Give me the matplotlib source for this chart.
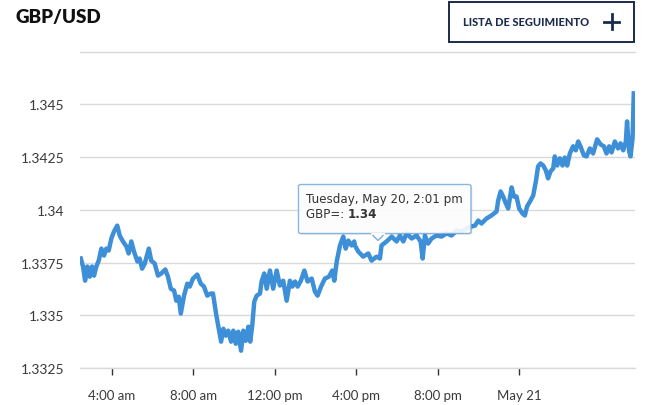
import matplotlib
matplotlib.use('Agg')
import matplotlib.pyplot as plt
from matplotlib.patches import FancyBboxPatch, Rectangle, Polygon
from matplotlib.lines import Line2D

# hours since midnight, May 20
hours = [2.48, 2.59, 2.69, 2.80, 2.92, 3.03, 3.13, 3.24, 3.36, 3.49, 3.62, 3.73, 3.85, 3.98,
         4.11, 4.27, 4.39, 4.55, 4.72, 4.83, 4.96, 5.09, 5.26, 5.37, 5.49, 5.62, 5.82, 5.94,
         6.11, 6.27, 6.43, 6.63, 6.76, 6.90, 7.06, 7.17, 7.29, 7.39, 7.55, 7.71, 7.83, 7.99,
         8.20, 8.37, 8.53, 8.69, 8.86, 8.97, 9.14, 9.23, 9.37, 9.48, 9.60, 9.72, 9.86, 9.97,
         10.09, 10.21, 10.35, 10.46, 10.58, 10.71, 10.80, 10.90, 11.00, 11.12, 11.28, 11.36,
         11.49, 11.61, 11.77, 11.93, 12.10, 12.26, 12.42, 12.59, 12.75, 12.87, 13.00, 13.13,
         13.29, 13.46, 13.62, 13.82, 13.98, 14.11, 14.28, 14.47, 14.67, 14.83, 14.93, 15.05,
         15.21, 15.37, 15.49, 15.62, 15.78, 15.91, 15.94, 16.11, 16.35, 16.60, 16.76, 17.01,
         17.17, 17.25, 17.50, 17.75, 17.99, 18.15, 18.32, 18.48, 18.73, 18.97, 19.17, 19.27,
         19.38, 19.54, 19.71, 19.95, 20.20, 20.45, 20.69, 20.94, 21.18, 21.43, 21.67, 21.84,
         22.00, 22.16, 22.41, 22.65, 22.90, 22.98, 23.10, 23.22, 23.36, 23.47, 23.64, 23.75,
         23.88, 24.01, 24.18, 24.29, 24.40, 24.57, 24.70, 24.83, 24.94, 25.06, 25.19, 25.32,
         25.43, 25.55, 25.68, 25.76, 25.88, 26.01, 26.14, 26.25, 26.37, 26.50, 26.66, 26.79,
         26.91, 27.02, 27.19, 27.32, 27.48, 27.64, 27.84, 28.01, 28.17, 28.30, 28.43, 28.55,
         28.71, 28.87, 28.99, 29.12, 29.25, 29.31, 29.41, 29.48, 29.58, 29.64]

gbp_usd = [1.33769, 1.33731, 1.33664, 1.33731, 1.33683, 1.33731, 1.33688, 1.33731, 1.33759,
           1.33816, 1.33783, 1.33816, 1.33807, 1.33864, 1.33897, 1.33925, 1.33878, 1.33850,
           1.33826, 1.33793, 1.33850, 1.33802, 1.33755, 1.33769, 1.33721, 1.33745, 1.33816,
           1.33759, 1.33745, 1.33688, 1.33698, 1.33717, 1.33683, 1.33626, 1.33617, 1.33569,
           1.33588, 1.33508, 1.33593, 1.33650, 1.33636, 1.33674, 1.33693, 1.33650, 1.33636,
           1.33593, 1.33603, 1.33603, 1.33498, 1.33451, 1.33375, 1.33436, 1.33403, 1.33427,
           1.33375, 1.33427, 1.33365, 1.33422, 1.33332, 1.33427, 1.33379, 1.33446, 1.33375,
           1.33451, 1.33565, 1.33593, 1.33603, 1.33660, 1.33698, 1.33626, 1.33712, 1.33626,
           1.33712, 1.33641, 1.33664, 1.33569, 1.33664, 1.33636, 1.33660, 1.33636, 1.33664,
           1.33712, 1.33660, 1.33674, 1.33612, 1.33593, 1.33636, 1.33674, 1.33683, 1.33712,
           1.33664, 1.33755, 1.33831, 1.33873, 1.33816, 1.33854, 1.33831, 1.33850, 1.33831,
           1.33802, 1.33778, 1.33793, 1.33759, 1.33778, 1.33769, 1.33831, 1.33850, 1.33873,
           1.33850, 1.33878, 1.33850, 1.33888, 1.33864, 1.33878, 1.33850, 1.33769, 1.33878,
           1.33840, 1.33864, 1.33878, 1.33873, 1.33888, 1.33878, 1.33902, 1.33897, 1.33911,
           1.33921, 1.33925, 1.33949, 1.33935, 1.33959, 1.33973, 1.33992, 1.34044, 1.34087,
           1.34063, 1.34030, 1.34006, 1.34106, 1.34063, 1.34063, 1.34006, 1.33982, 1.33973,
           1.34016, 1.34044, 1.34068, 1.34134, 1.34206, 1.34220, 1.34210, 1.34187, 1.34149,
           1.34182, 1.34196, 1.34253, 1.34210, 1.34244, 1.34210, 1.34248, 1.34210, 1.34267,
           1.34301, 1.34282, 1.34324, 1.34301, 1.34258, 1.34253, 1.34291, 1.34267, 1.34334,
           1.34310, 1.34301, 1.34267, 1.34301, 1.34272, 1.34324, 1.34291, 1.34315, 1.34282,
           1.34324, 1.34419, 1.34277, 1.34253, 1.34339, 1.34552]

y_ticks = [1.3325, 1.335, 1.3375, 1.34, 1.3425, 1.345]
y_labels = ['1.3325', '1.335', '1.3375', '1.34', '1.3425', '1.345']
x_ticks = [4, 8, 12, 16, 20, 24]
x_labels = ['4:00 am', '8:00 am', '12:00 pm', '4:00 pm', '8:00 pm', 'May 21']

W, H = 653, 406
LINE = '#3d8fd7'
GRID = '#d9d9d9'
TXT = '#3a3a3a'
NAVY = '#1b2b4d'


def fx(px):
    return px / W


def fy(py):
    return 1 - py / H


fig = plt.figure(figsize=(W / 100, H / 100), dpi=100)
ax = fig.add_axes([fx(80), fy(369), (635 - 80) / W, (369 - 52.6) / H])

ax.plot(hours, gbp_usd, color=LINE, lw=3.2, solid_joinstyle='round', zorder=3)

ax.set_xlim(2.44, 29.70)
ax.set_ylim(1.3325, 1.3475)
ax.set_yticks(y_ticks)
ax.set_yticklabels(y_labels)
ax.set_xticks(x_ticks)
ax.set_xticklabels(x_labels)
ax.grid(axis='y', color=GRID, lw=1)
ax.set_axisbelow(True)
for side in ['left', 'right']:
    ax.spines[side].set_visible(False)
for side in ['top', 'bottom']:
    ax.spines[side].set_color(GRID)
    ax.spines[side].set_linewidth(1)
ax.tick_params(axis='y', length=0, pad=11, labelsize=10, labelcolor=TXT)
ax.tick_params(axis='x', length=5, width=1, color='#333333', pad=10,
               labelsize=9.5, labelcolor=TXT)
for lab in ax.get_xticklabels() + ax.get_yticklabels():
    lab.set_fontfamily('Lato')

# title
fig.text(fx(16), fy(18), 'GBP/USD', fontsize=13.5, fontweight='heavy',
         family='Lato', color='#111111', va='center', ha='left')

# watchlist button
fig.add_artist(Rectangle((fx(448.5), fy(42.5)), (634 - 448.5) / W, (42.5 - 2.5) / H,
                         transform=fig.transFigure, fill=False, ec=NAVY, lw=1.4))
fig.text(fx(463), fy(22.5), 'LISTA DE SEGUIMIENTO', fontsize=7.9, fontweight='black',
         family='Lato', color=NAVY, va='center', ha='left')
fig.add_artist(Line2D([fx(604), fx(619)], [fy(22.5), fy(22.5)], color=NAVY, lw=2,
                      transform=fig.transFigure))
fig.add_artist(Line2D([fx(611.5), fx(611.5)], [fy(15), fy(30)], color=NAVY, lw=2,
                      transform=fig.transFigure))

# tooltip
bx0, by0, bx1, by1 = 298.5, 185.5, 471, 234.5
fig.add_artist(FancyBboxPatch((fx(bx0 + 1.5), fy(by1 + 1.5)), (bx1 - bx0) / W, (by1 - by0) / H,
                              boxstyle='round,pad=0,rounding_size=0.004',
                              transform=fig.transFigure, fc='#000000', ec='none',
                              alpha=0.08, zorder=5))
fig.add_artist(FancyBboxPatch((fx(bx0), fy(by1)), (bx1 - bx0) / W, (by1 - by0) / H,
                              boxstyle='round,pad=0,rounding_size=0.004',
                              transform=fig.transFigure, fc='white', ec='#7aaee0',
                              lw=1, alpha=0.9, zorder=6))
fig.add_artist(Polygon([(fx(371), fy(by1)), (fx(378), fy(241.5)), (fx(385), fy(by1))],
                       closed=False, transform=fig.transFigure, fc='white', ec='#7aaee0',
                       lw=1, zorder=7))
fig.add_artist(Line2D([fx(371.8), fx(384.2)], [fy(by1), fy(by1)], color='white', lw=1.4,
                      transform=fig.transFigure, zorder=8))
fig.text(fx(306), fy(200), 'Tuesday, May 20, 2:01 pm', fontsize=8.6, family='DejaVu Sans',
         color='#333333', va='center', ha='left', zorder=9)
t1 = fig.text(fx(306), fy(215), 'GBP=: ', fontsize=8.6, family='DejaVu Sans',
              color='#333333', va='center', ha='left', zorder=9)
fig.canvas.draw()
bb = t1.get_window_extent()
fig.text(bb.x1 / W, fy(215), '1.34', fontsize=8.6, family='DejaVu Sans', fontweight='bold',
         color='#333333', va='center', ha='left', zorder=9)

fig.savefig('out.png', dpi=100)
